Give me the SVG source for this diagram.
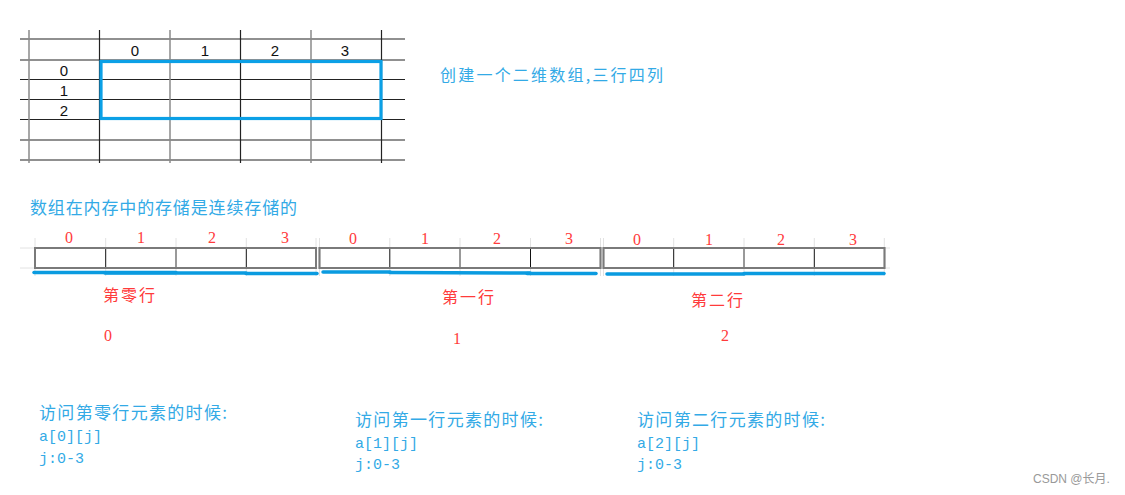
<svg xmlns="http://www.w3.org/2000/svg" width="1125" height="495" viewBox="0 0 1125 495">
<style>
.gh{stroke:#222;stroke-width:1.2}
.gv1{stroke:#222;stroke-width:1.2}
.gv2{stroke:#8a8a8a;stroke-width:1.5}
.gl{font-family:"Liberation Sans",Arial,sans-serif;font-size:15px;fill:#111;text-anchor:middle}
.blue{font-family:"Noto Sans CJK SC",sans-serif;fill:#33AAE6}
.red{font-family:"Liberation Serif","Noto Sans CJK SC",serif;font-size:16px;fill:#FF3B3B;text-anchor:middle}
.redc{font-family:"Noto Sans CJK SC",sans-serif;font-size:16px;fill:#FF3B3B}
.cell{fill:#fff;stroke:#333;stroke-width:1.2}
.grp{fill:none;stroke:#7a7a7a;stroke-width:2}
.ul{stroke:#0A9BE0;stroke-width:3.5;stroke-linecap:round}
.faint{stroke:#e2e2e2;stroke-width:1}
.code{font-family:"Liberation Mono",monospace;font-size:15px;fill:#33AAE6}
.cjk{font-family:"Noto Sans CJK SC",sans-serif;font-size:17px;fill:#33AAE6}
</style>
<rect width="1125" height="495" fill="#fff"/>
<g id="grid">
<line class="gh" x1="20" y1="39" x2="405" y2="39"/>
<line class="gh" x1="20" y1="60" x2="405" y2="60"/>
<line class="gh" x1="20" y1="79.5" x2="405" y2="79.5"/>
<line class="gh" x1="20" y1="99.5" x2="405" y2="99.5"/>
<line class="gh" x1="20" y1="119.5" x2="405" y2="119.5"/>
<line class="gh" x1="20" y1="140" x2="405" y2="140"/>
<line class="gh" x1="20" y1="160" x2="405" y2="160"/>
<line class="gv2" x1="29" y1="30" x2="29" y2="163"/>
<line class="gv1" x1="99.5" y1="30" x2="99.5" y2="163"/>
<line class="gv2" x1="170" y1="30" x2="170" y2="163"/>
<line class="gv1" x1="240.5" y1="30" x2="240.5" y2="163"/>
<line class="gv2" x1="311" y1="30" x2="311" y2="163"/>
<line class="gv1" x1="381.5" y1="30" x2="381.5" y2="163"/>
<text class="gl" x="135" y="56">0</text>
<text class="gl" x="205" y="56">1</text>
<text class="gl" x="275" y="56">2</text>
<text class="gl" x="345" y="56">3</text>
<text class="gl" x="64" y="76">0</text>
<text class="gl" x="64" y="96">1</text>
<text class="gl" x="64" y="116">2</text>
<rect x="101" y="61.5" width="280" height="57" fill="none" stroke="#0BA0E6" stroke-width="3.2"/>
</g>
<g id="title1"><text class="blue" x="440" y="81" font-size="16" textLength="223" lengthAdjust="spacing">创建一个二维数组,三行四列</text></g>
<g id="title2"><text class="blue" x="30" y="214" font-size="17" textLength="267" lengthAdjust="spacing">数组在内存中的存储是连续存储的</text></g>
<g id="faint">
<line class="faint" x1="20" y1="248" x2="890" y2="248"/>
<line class="faint" x1="20" y1="268" x2="890" y2="268"/>
<line class="faint" x1="35" y1="238" x2="35" y2="276"/>
<line class="faint" x1="105.7" y1="238" x2="105.7" y2="276"/>
<line class="faint" x1="176" y1="238" x2="176" y2="276"/>
<line class="faint" x1="246.3" y1="238" x2="246.3" y2="276"/>
<line class="faint" x1="316" y1="238" x2="316" y2="276"/>
<line class="faint" x1="319.5" y1="238" x2="319.5" y2="276"/>
<line class="faint" x1="389.8" y1="238" x2="389.8" y2="276"/>
<line class="faint" x1="460" y1="238" x2="460" y2="276"/>
<line class="faint" x1="530.5" y1="238" x2="530.5" y2="276"/>
<line class="faint" x1="600.5" y1="238" x2="600.5" y2="276"/>
<line class="faint" x1="603.5" y1="238" x2="603.5" y2="276"/>
<line class="faint" x1="673.7" y1="238" x2="673.7" y2="276"/>
<line class="faint" x1="744" y1="238" x2="744" y2="276"/>
<line class="faint" x1="814.3" y1="238" x2="814.3" y2="276"/>
<line class="faint" x1="884.3" y1="238" x2="884.3" y2="276"/>
</g>
<g id="row0">
<rect class="cell" x="35" y="248" width="281" height="20"/>
<line stroke="#111" x1="105.7" y1="248" x2="105.7" y2="268"/>
<line stroke="#777" stroke-width="1.5" x1="176" y1="248" x2="176" y2="268"/>
<line stroke="#111" x1="246.3" y1="248" x2="246.3" y2="268"/>
<rect class="grp" x="35" y="248" width="281" height="20"/>
<text class="red" x="69" y="243">0</text>
<text class="red" x="141" y="243">1</text>
<text class="red" x="212" y="243">2</text>
<text class="red" x="285" y="243">3</text>
<line class="ul" x1="34" y1="272.5" x2="176" y2="272.5"/>
<line class="ul" x1="105" y1="273" x2="246" y2="273"/>
<line class="ul" x1="246" y1="273.5" x2="317" y2="273.5"/>
<text class="redc" x="103" y="301" textLength="52" lengthAdjust="spacing">第零行</text>
<text class="red" x="108" y="341">0</text>
</g>
<g id="row1">
<rect class="cell" x="319.5" y="248" width="281" height="20"/>
<line stroke="#111" x1="389.8" y1="248" x2="389.8" y2="268"/>
<line stroke="#777" stroke-width="1.5" x1="460" y1="248" x2="460" y2="268"/>
<line stroke="#111" x1="530.5" y1="248" x2="530.5" y2="268"/>
<rect class="grp" x="319.5" y="248" width="281" height="20"/>
<text class="red" x="353" y="244">0</text>
<text class="red" x="425" y="244">1</text>
<text class="red" x="497" y="244">2</text>
<text class="red" x="569" y="244">3</text>
<line class="ul" x1="323" y1="272" x2="390" y2="272"/>
<line class="ul" x1="390" y1="272.5" x2="530" y2="273"/>
<line class="ul" x1="527" y1="273.5" x2="596" y2="273.5"/>
<text class="redc" x="442" y="303" textLength="52" lengthAdjust="spacing">第一行</text>
<text class="red" x="457" y="344">1</text>
</g>
<g id="row2">
<rect class="cell" x="603.5" y="248" width="281" height="20"/>
<line stroke="#111" x1="673.7" y1="248" x2="673.7" y2="268"/>
<line stroke="#777" stroke-width="1.5" x1="744" y1="248" x2="744" y2="268"/>
<line stroke="#111" x1="814.3" y1="248" x2="814.3" y2="268"/>
<rect class="grp" x="603.5" y="248" width="281" height="20"/>
<text class="red" x="637" y="245">0</text>
<text class="red" x="709" y="245">1</text>
<text class="red" x="781" y="245">2</text>
<text class="red" x="853" y="245">3</text>
<line class="ul" x1="607" y1="274" x2="744" y2="274"/>
<line class="ul" x1="744" y1="273.5" x2="884" y2="273.5"/>
<text class="redc" x="691" y="306" textLength="52" lengthAdjust="spacing">第二行</text>
<text class="red" x="725" y="341">2</text>
</g>
<g id="note0">
<text class="cjk" x="39" y="419" textLength="188" lengthAdjust="spacing">访问第零行元素的时候:</text>
<text class="code" x="39" y="441">a[0][j]</text>
<text class="code" x="39" y="463">j:0-3</text>
</g>
<g id="note1">
<text class="cjk" x="355" y="426" textLength="188" lengthAdjust="spacing">访问第一行元素的时候:</text>
<text class="code" x="355" y="448">a[1][j]</text>
<text class="code" x="355" y="469">j:0-3</text>
</g>
<g id="note2">
<text class="cjk" x="637" y="426" textLength="188" lengthAdjust="spacing">访问第二行元素的时候:</text>
<text class="code" x="637" y="448">a[2][j]</text>
<text class="code" x="637" y="469">j:0-3</text>
</g>
<text x="1033" y="483" font-family="'Liberation Sans','Noto Sans CJK SC',sans-serif" font-size="12" fill="#999">CSDN @长月.</text>
</svg>
